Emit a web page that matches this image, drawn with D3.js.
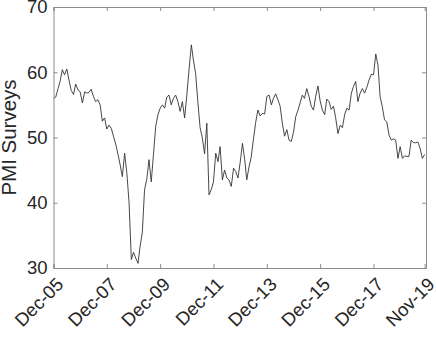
<!DOCTYPE html>
<html>
<head>
<meta charset="utf-8">
<script src="https://cdn.jsdelivr.net/npm/d3@7"></script>
<style>
  body { margin: 0; background: #fff; }
  text { font-family: "Liberation Sans", Arial, Helvetica, sans-serif; fill: #262626; }
</style>
</head>
<body>
<script>
//monthly survey readings, Dec-05 .. Nov-19
var pmi = [
  56.0, 56.2, 57.5, 58.6, 60.4, 59.6, 60.5, 58.8, 57.2, 56.6, 58.2, 57.3,
  57.0, 55.3, 57.0, 56.8, 56.9, 57.4, 56.3, 55.5, 55.8, 55.0, 52.5, 53.0,
  51.3, 51.9, 51.4, 50.2, 49.0, 47.5, 45.8, 44.0, 47.6, 44.5, 40.0, 31.3,
  32.4, 31.5, 30.7, 33.3, 35.5, 42.0, 43.6, 46.6, 43.2, 47.5, 51.7, 53.5,
  54.5, 55.0, 54.5, 56.2, 56.5, 55.0, 56.0, 56.5, 55.5, 54.0, 55.5, 53.0,
  56.5, 60.5, 64.2, 61.9, 59.8, 55.5, 51.5, 50.0, 47.5, 52.2, 41.2, 42.0,
  43.2, 47.6, 46.3, 48.6, 43.5, 45.0, 43.8, 43.5, 42.5, 45.3, 44.8, 43.8,
  46.2, 49.1, 46.6, 43.5, 45.5, 47.0, 49.8, 52.3, 54.2, 53.3, 53.7, 53.6,
  56.3, 56.5, 55.0, 56.0, 56.7, 55.8, 54.8, 52.2, 50.2, 51.2, 49.6, 49.4,
  50.8, 53.2, 54.2, 55.3, 56.5, 56.0, 57.5, 56.3, 54.8, 54.2, 56.3, 57.9,
  55.6, 54.2, 53.5, 55.9, 55.5, 54.3, 54.8, 53.0, 50.6, 51.9, 51.5, 53.5,
  54.5, 54.2, 56.8, 57.8, 58.6, 55.5, 56.8, 57.5, 56.8, 57.7, 58.8, 59.7,
  59.6, 62.8, 61.0, 56.3, 54.7, 52.7, 52.4, 50.4, 49.6, 49.8, 49.6, 46.8,
  48.6, 46.8, 47.2, 47.1, 47.1, 49.6, 49.2, 49.2, 49.3, 48.3, 46.8, 47.4
];

var yTicks = [30, 40, 50, 60, 70];
var xTickLabels = ['Dec-05', 'Dec-07', 'Dec-09', 'Dec-11', 'Dec-13', 'Dec-15', 'Dec-17', 'Nov-19'];

var parseTick = d3.timeParse('%b-%y'),
    fmtTick = d3.timeFormat('%b-%y');

var start = new Date(2005, 11, 1);
var data = pmi.map(function(v, i) { return { date: d3.timeMonth.offset(start, i), value: v }; });

//svg dimensions
var width = 436, height = 337;
var margin = { top: 7, right: 10, bottom: 69, left: 53.5 };

var svg = d3.select('body').append('svg')
  .attr('width', width)
  .attr('height', height);

var x = d3.scaleTime()
  .domain([start, new Date(2019, 10, 20)])
  .range([margin.left, width - margin.right]);

var y = d3.scaleLinear()
  .domain([30, 70])
  .range([height - margin.bottom, margin.top]);

var tickDates = xTickLabels.map(parseTick);
var tickLen = 4, boxColor = '#8c8c8c', tickFont = 18.5;

//data line
svg.append('path')
  .datum(data)
  .attr('fill', 'none')
  .attr('stroke', '#333')
  .attr('stroke-width', 0.9)
  .attr('d', d3.line()
    .x(function(d) { return x(d.date); })
    .y(function(d) { return y(d.value); }));

//bottom axis with inward ticks
var gx = svg.append('g')
  .attr('transform', 'translate(0,' + y(30) + ')')
  .call(d3.axisBottom(x).tickValues(tickDates).tickSize(-tickLen).tickFormat(fmtTick));

gx.selectAll('text')
  .attr('font-size', tickFont)
  .attr('text-anchor', 'end')
  .attr('dy', '0.35em')
  .attr('y', 0)
  .attr('transform', 'translate(6,13) rotate(-45)');

//top axis, ticks only
svg.append('g')
  .attr('transform', 'translate(0,' + y(70) + ')')
  .call(d3.axisTop(x).tickValues(tickDates).tickSize(-tickLen).tickFormat(''));

//left axis
var gy = svg.append('g')
  .attr('transform', 'translate(' + margin.left + ',0)')
  .call(d3.axisLeft(y).tickValues(yTicks).tickSize(-tickLen).tickPadding(6));

gy.selectAll('text').attr('font-size', tickFont);

//right axis, ticks only
svg.append('g')
  .attr('transform', 'translate(' + (width - margin.right) + ',0)')
  .call(d3.axisRight(y).tickValues(yTicks).tickSize(-tickLen).tickFormat(''));

svg.selectAll('.domain').attr('stroke', boxColor);
svg.selectAll('.tick line').attr('stroke', boxColor);

//y label
svg.append('text')
  .attr('transform', 'translate(16,' + (margin.top + height - margin.bottom) / 2 + ') rotate(-90)')
  .attr('text-anchor', 'middle')
  .attr('font-size', 20.5)
  .text('PMI Surveys');
</script>
</body>
</html>
